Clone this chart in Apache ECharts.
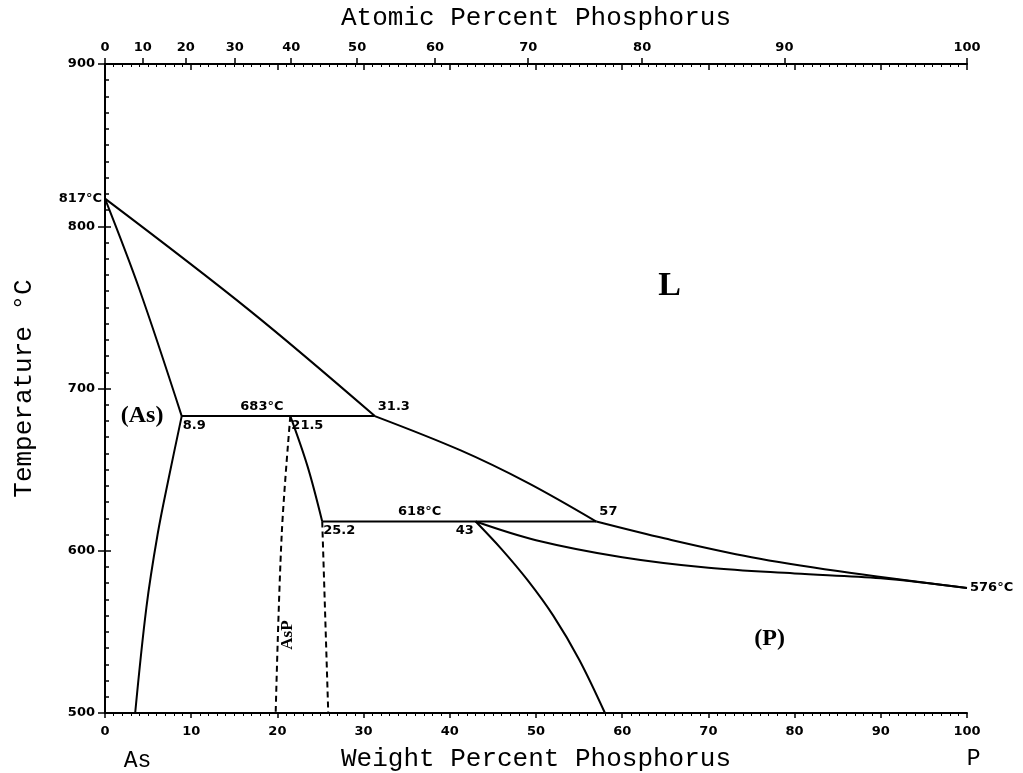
<!DOCTYPE html>
<html>
<head>
<meta charset="utf-8">
<title>As-P</title>
<script src="https://cdn.jsdelivr.net/npm/echarts@6.0.0/dist/echarts.min.js"></script>
<style>
  html, body { margin: 0; padding: 0; background: #fff; }
  #chart { width: 1023px; height: 773px; }
</style>
</head>
<body>
<div id="chart"></div>
<script>
// tick labels
var weightTicks = [0, 10, 20, 30, 40, 50, 60, 70, 80, 90, 100];
var atomicTicks = [0, 10, 20, 30, 40, 50, 60, 70, 80, 90, 100];

// phase boundaries, [wt% P, temperature C]
var liquidusAs = [[0, 817], [16.8, 748], [31.3, 683]];
var liquidusMid = [[31.3, 683], [41.2, 662], [49, 642], [57, 618]];
var liquidusP = [[57, 618], [65, 607.5], [75, 596], [85, 587.5], [100, 577]];
var solidusP = [[43, 618], [50, 606.5], [60, 596], [70, 589.5], [80, 586], [90, 583], [100, 577]];
var solvusP = [[43, 618], [46, 601], [49, 582], [52, 560], [55, 533], [58, 500]];
var solidusAs = [[0, 817], [4, 761], [8.9, 683]];
var solvusAs = [[8.9, 683], [7.4, 645], [6.1, 610], [4.8, 565], [3.5, 500]];
var eutectic = [[8.9, 683], [31.3, 683]];
var peritectic = [[25.2, 618], [57, 618]];
var asPLiquid = [[21.5, 683], [23.5, 652], [25.2, 618]];
var asPLeft = [[21.5, 683], [20.5, 610], [19.8, 500]];
var asPRight = [[25.2, 618], [25.9, 500]];

// texts: [text, wt%, temperature, placement]
var pointTexts = [
  ['817°C', 0, 817, 'left'],
  ['576°C', 100, 577, 'right'],
  ['683°C', 18.2, 683, 'top'],
  ['31.3', 31.3, 683, 'topRight'],
  ['8.9', 8.9, 683, 'bottomRight'],
  ['21.5', 21.5, 683, 'bottomRight'],
  ['618°C', 36.5, 618, 'top'],
  ['25.2', 25.2, 618, 'bottomRight'],
  ['43', 43, 618, 'bottomLeft'],
  ['57', 57, 618, 'topRight']
];
var regionTexts = [
  ['L', 65.5, 763, 34, 0],
  ['(As)', 4.3, 683, 24, 0],
  ['(P)', 77.1, 546, 24, 0],
  ['AsP', 21.2, 548, 17, 90]
];

var MP = 30.974, MAS = 74.922;
function atToWt(a) { return 100 * a * MP / (a * MP + (100 - a) * MAS); }
function wtToAt(w) { return 100 * (w / MP) / (w / MP + (100 - w) / MAS); }
var atomicPos = atomicTicks.map(atToWt);

var chart = echarts.init(document.getElementById('chart'));

var tickFont = { color: '#000', fontFamily: 'DejaVu Sans', fontSize: 13, fontWeight: 'bold' };
var titleFont = { color: '#000', fontFamily: 'Liberation Mono', fontSize: 26 };

function curve(data, smooth, dashed) {
  return {
    type: 'line', data: data, showSymbol: false,
    smooth: smooth ? 0.35 : false,
    clip: false, silent: true,
    lineStyle: { color: '#000', width: 2, type: dashed ? [6, 4] : 'solid' }
  };
}

var placements = {
  left: 'left', right: 'right', top: 'top',
  topRight: [3, -16], bottomRight: [1, 3], bottomLeft: [-20, 3]
};

var labelSeries = {
  type: 'scatter', symbolSize: 0, silent: true, clip: false,
  itemStyle: { opacity: 1, color: '#000' },
  data: pointTexts.map(function (p) {
    return {
      value: [p[1], p[2]],
      label: {
        show: true, formatter: p[0], position: placements[p[3]], distance: 3,
        color: '#000', opacity: 1, fontFamily: 'DejaVu Sans', fontSize: 13, fontWeight: 'bold'
      }
    };
  })
};

var regionSeries = {
  type: 'scatter', symbolSize: 0, silent: true, clip: false,
  itemStyle: { opacity: 1, color: '#000' },
  data: regionTexts.map(function (r) {
    return {
      value: [r[1], r[2]],
      label: {
        show: true, formatter: r[0], position: 'inside', rotate: r[4],
        color: '#000', opacity: 1, fontFamily: 'Liberation Serif', fontSize: r[3], fontWeight: 'bold'
      }
    };
  })
};

var endSeries = {
  type: 'scatter', symbolSize: 0, silent: true, clip: false,
  itemStyle: { opacity: 1, color: '#000' },
  data: [
    { value: [4, 500], label: { show: true, formatter: 'As', position: [-2, 36], align: 'center', color: '#000', fontFamily: 'Liberation Mono', fontSize: 23 } },
    { value: [101, 500], label: { show: true, formatter: 'P', position: [-2, 34], align: 'center', color: '#000', fontFamily: 'Liberation Mono', fontSize: 23 } }
  ]
};

var option = {
  animation: false,
  backgroundColor: '#fff',
  grid: { left: 105, right: 56, top: 64, bottom: 60, containLabel: false, outerBoundsMode: 'none' },
  xAxis: [
    {
      type: 'value', position: 'bottom', min: 0, max: 100, interval: 10,
      name: 'Weight Percent Phosphorus', nameLocation: 'middle', nameGap: 33,
      nameTextStyle: titleFont,
      axisLine: { lineStyle: { color: '#000', width: 2 } },
      axisTick: { length: 5, lineStyle: { color: '#000', width: 1.5 } },
      minorTick: { show: true, splitNumber: 10, length: 3, lineStyle: { color: '#000' } },
      splitLine: { show: false },
      axisLabel: Object.assign({ margin: 12 }, tickFont)
    },
    {
      type: 'value', position: 'top', min: 0, max: 100, interval: 10,
      axisLine: { lineStyle: { color: '#000', width: 2 } },
      axisTick: { inside: true, length: 6, lineStyle: { color: '#000', width: 1.5 } },
      minorTick: { show: true, splitNumber: 10, length: 3, lineStyle: { color: '#000' } },
      splitLine: { show: false },
      axisLabel: { show: false }
    },
    {
      type: 'value', position: 'top', min: 0, max: 100,
      name: 'Atomic Percent Phosphorus', nameLocation: 'middle', nameGap: 33,
      nameTextStyle: titleFont,
      axisLine: { show: false },
      axisTick: { show: true, length: 6, customValues: atomicPos, lineStyle: { color: '#000', width: 1.5 } },
      splitLine: { show: false },
      axisLabel: Object.assign({
        margin: 10, customValues: atomicPos,
        formatter: function (v) { return String(Math.round(wtToAt(v))); }
      }, tickFont)
    }
  ],
  yAxis: [
    {
      type: 'value', position: 'left', min: 500, max: 900, interval: 100,
      name: 'Temperature °C', nameLocation: 'middle', nameGap: 68, nameRotate: 90,
      nameTextStyle: titleFont,
      axisLine: { lineStyle: { color: '#000', width: 2 } },
      axisTick: { length: 7, lineStyle: { color: '#000', width: 1.5 } },
      splitLine: { show: false },
      axisLabel: Object.assign({ margin: 10 }, tickFont)
    },
    {
      type: 'value', position: 'left', min: 500, max: 900, interval: 100,
      axisLine: { show: false },
      axisTick: { show: false, inside: true },
      minorTick: { show: true, splitNumber: 10, length: 4, lineStyle: { color: '#000', width: 1.5 } },
      splitLine: { show: false },
      axisLabel: { show: false }
    },
    {
      type: 'value', position: 'right', min: 500, max: 900, interval: 100,
      axisLine: { lineStyle: { color: '#000', width: 2 } },
      axisTick: { length: 6, lineStyle: { color: '#000', width: 1.5 } },
      minorTick: { show: true, splitNumber: 10, length: 4, lineStyle: { color: '#000', width: 1.5 } },
      splitLine: { show: false },
      axisLabel: { show: false }
    }
  ],
  series: [
    curve(liquidusAs, true),
    curve(liquidusMid, true),
    curve(liquidusP, true),
    curve(solidusP, true),
    curve(solvusP, true),
    curve(solidusAs, true),
    curve(solvusAs, true),
    curve(eutectic, false),
    curve(peritectic, false),
    curve(asPLiquid, true),
    curve(asPLeft, true, true),
    curve(asPRight, false, true),
    labelSeries,
    regionSeries,
    endSeries
  ]
};

chart.setOption(option);
</script>
</body>
</html>
